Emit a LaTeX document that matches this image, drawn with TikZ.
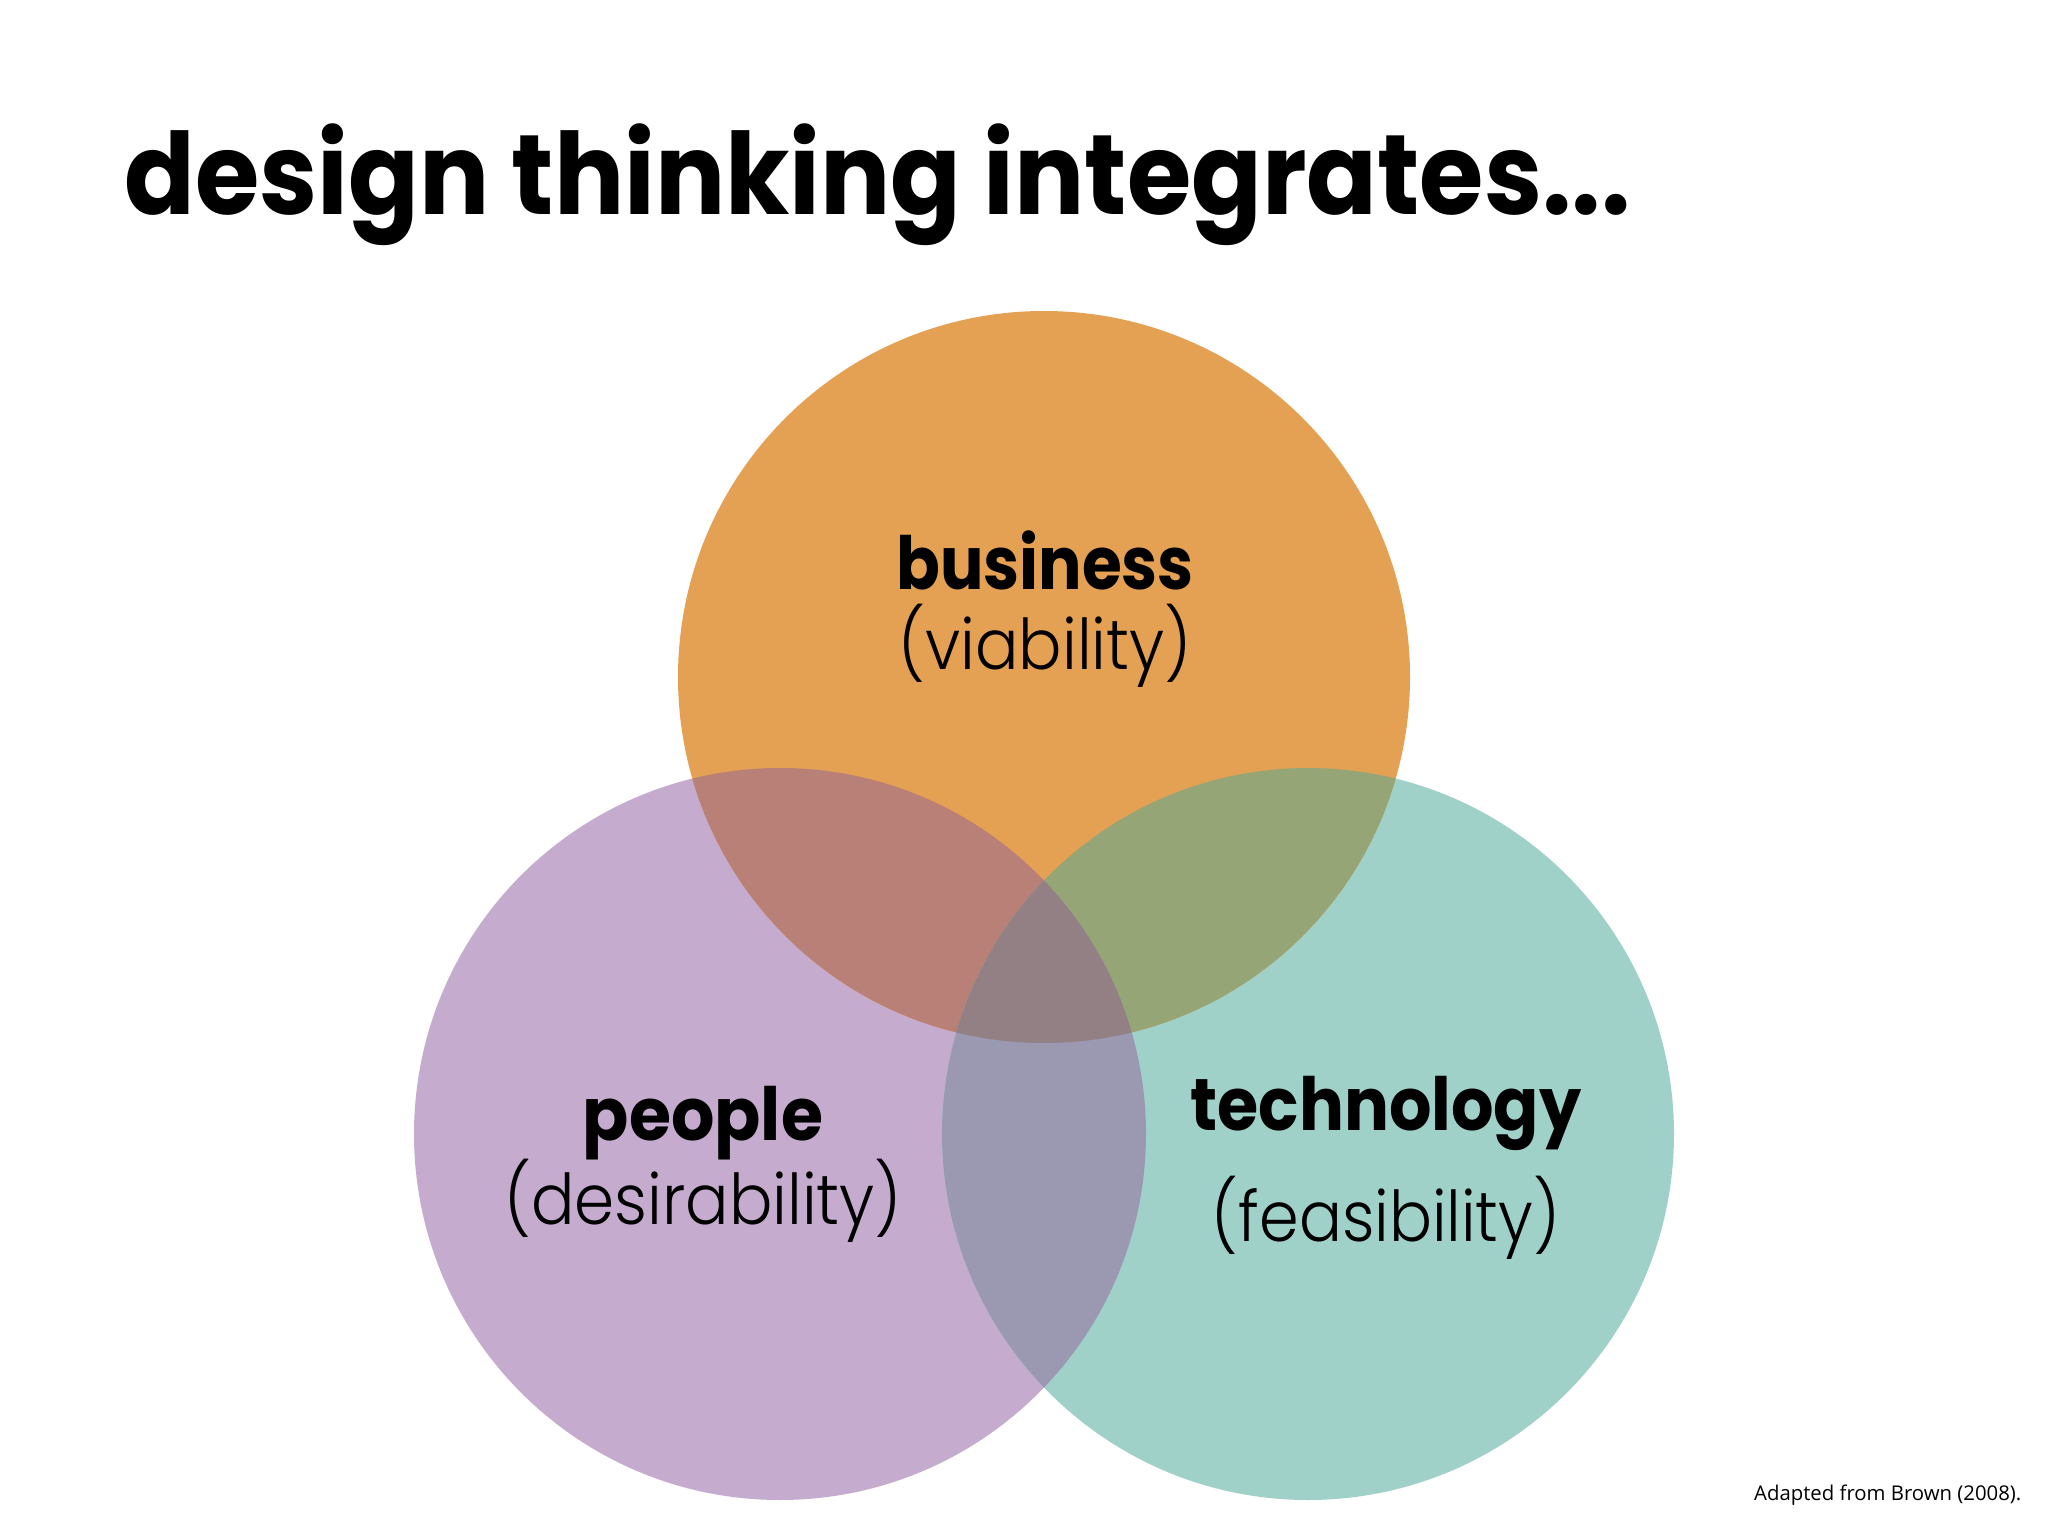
\documentclass[tikz,border=0pt]{standalone}
\usepackage{fontspec}
\newfontfamily\popfont{Poppins}
\newfontfamily\poplight{Poppins Light}
\newfontfamily\notefont{Open Sans}
\definecolor{cbiz}{RGB}{229,161,83}
\definecolor{cppl}{RGB}{197,171,206}
\definecolor{ctech}{RGB}{160,209,201}
\definecolor{cbp}{RGB}{184,128,119}
\definecolor{cpt}{RGB}{154,153,177}
\definecolor{cbt}{RGB}{149,165,118}
\definecolor{call}{RGB}{146,128,133}
\newcommand\narrowx[2]{\scalebox{#1}[1]{#2}}
\tikzset{
  heading/.style={anchor=base west, inner sep=0pt, font=\popfont\bfseries\fontsize{34}{40}\selectfont},
  mainlabel/.style={anchor=base, inner sep=0pt, font=\popfont\bfseries\fontsize{22}{26}\selectfont},
  sublabel/.style={anchor=base, inner sep=0pt, font=\poplight\fontsize{21}{26}\selectfont},
  notelabel/.style={anchor=base east, inner sep=0pt, font=\notefont\fontsize{6.1}{8}\selectfont}
}
\begin{document}
\begin{tikzpicture}[x=0.3pt,y=-0.3pt]
\useasboundingbox (0,0) rectangle (2048,1536);
\fill[white] (0,0) rectangle (2048,1536);
\coordinate (biz) at (1044,677);
\coordinate (ppl) at (780,1134);
\coordinate (tech) at (1308,1134);
\def\R{109.8pt}
% base circles
\fill[cppl] (ppl) circle[radius=\R];
\fill[ctech] (tech) circle[radius=\R];
\fill[cbiz] (biz) circle[radius=\R];
% pairwise overlaps
\begin{scope}
  \clip (biz) circle[radius=\R];
  \fill[cbp] (ppl) circle[radius=\R];
\end{scope}
\begin{scope}
  \clip (biz) circle[radius=\R];
  \fill[cbt] (tech) circle[radius=\R];
\end{scope}
\begin{scope}
  \clip (ppl) circle[radius=\R];
  \fill[cpt] (tech) circle[radius=\R];
\end{scope}
\begin{scope}
  \clip (biz) circle[radius=\R];
  \clip (ppl) circle[radius=\R];
  \fill[call] (tech) circle[radius=\R];
\end{scope}
% texts
\node[heading] (title) at (124,215) {\narrowx{0.92}{design thinking integrates...}};
\node[mainlabel] (bizname) at (1045,590) {\narrowx{0.88}{business}};
\node[sublabel] (bizsub) at (1045,669) {\narrowx{0.92}{(viability)}};
\node[mainlabel] (pplname) at (703,1140) {\narrowx{0.93}{people}};
\node[sublabel] (pplsub) at (703,1224) {\narrowx{0.92}{(desirability)}};
\node[mainlabel] (techname) at (1386,1130) {\narrowx{0.91}{technology}};
\node[sublabel] (techsub) at (1386,1241) {\narrowx{0.91}{(feasibility)}};
\node[notelabel] (note) at (2022,1500) {Adapted from Brown (2008).};
\end{tikzpicture}
\end{document}
